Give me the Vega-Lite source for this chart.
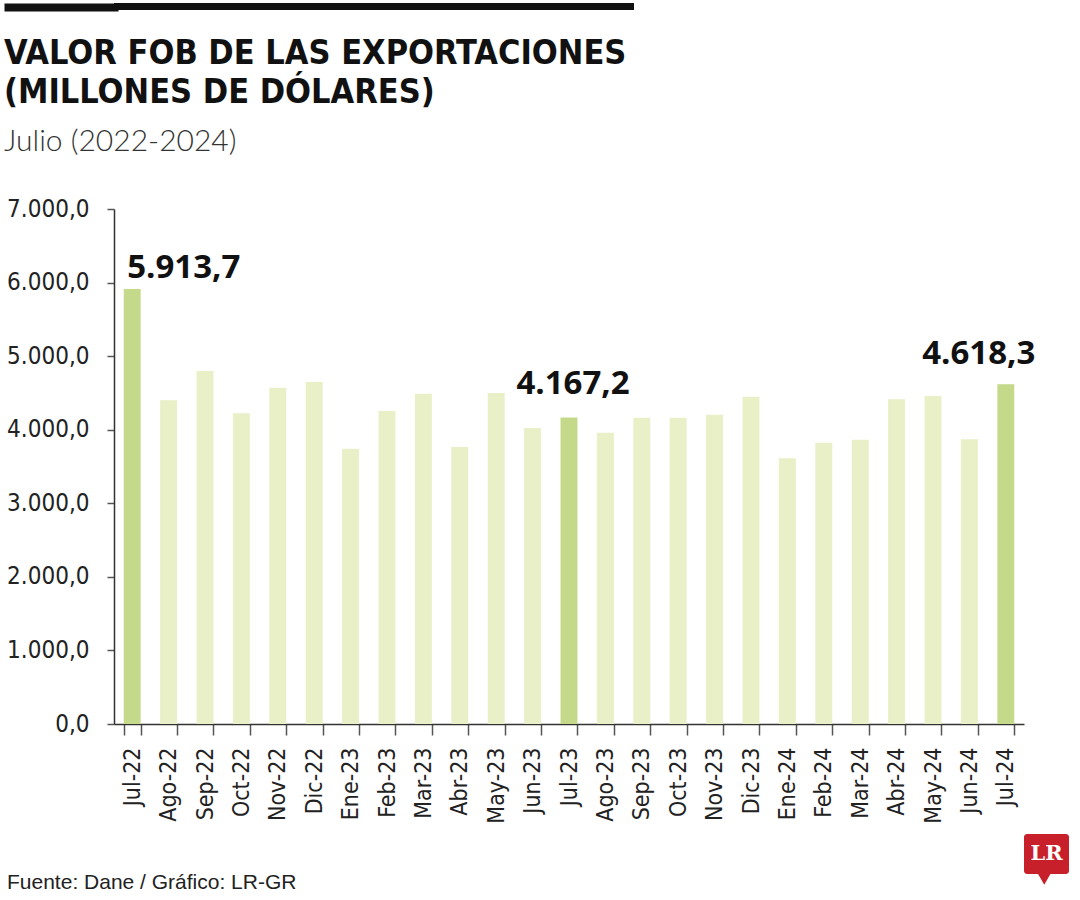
{
  "$schema": "https://vega.github.io/schema/vega-lite/v6.json",
  "background": "white",
  "padding": {"left": 0, "top": 0, "right": 10, "bottom": 4},
  "spacing": 25,
  "config": {
    "locale": {"number": {"decimal": ",", "thousands": ".", "grouping": [3], "currency": ["$", ""]}},
    "font": "DejaVu Sans Condensed, sans-serif",
    "view": {"stroke": null}
  },
  "vconcat": [
    {
      "width": 520,
      "height": 7,
      "view": {"fill": "#111111", "stroke": null},
      "data": {"values": [{"t": "", "v": 0.5}]},
      "mark": {"type": "text"},
      "encoding": {
        "text": {"field": "t"},
        "y": {
          "field": "v",
          "type": "quantitative",
          "scale": {"domain": [0, 1]},
          "axis": {"values": [0.5], "labels": false, "domain": false, "grid": false, "ticks": true, "offset": -4, "tickSize": 114, "tickWidth": 8, "tickColor": "#111111", "title": null}
        }
      }
    },
    {
      "spacing": 10,
      "vconcat": [
        {
          "width": 910,
          "height": 515,
          "title": {
            "text": ["VALOR FOB DE LAS EXPORTACIONES", "(MILLONES DE DÓLARES)"],
            "subtitle": "Julio (2022-2024)",
            "anchor": "start",
            "frame": "group",
            "dx": -110,
            "font": "DejaVu Sans Condensed, sans-serif",
            "fontSize": 34,
            "fontWeight": "bold",
            "color": "#111111",
            "lineHeight": 39,
            "subtitleFont": "Lato, sans-serif",
            "subtitleFontWeight": 300,
            "subtitleFontSize": 30,
            "subtitleColor": "#333333",
            "subtitlePadding": 17,
            "offset": 40
          },
          "data": {
            "values": [
              {"mes": "Jul-22", "valor": 5913.7, "grupo": "julio"},
              {"mes": "Ago-22", "valor": 4400, "grupo": "otro"},
              {"mes": "Sep-22", "valor": 4798, "grupo": "otro"},
              {"mes": "Oct-22", "valor": 4223, "grupo": "otro"},
              {"mes": "Nov-22", "valor": 4571, "grupo": "otro"},
              {"mes": "Dic-22", "valor": 4649, "grupo": "otro"},
              {"mes": "Ene-23", "valor": 3742, "grupo": "otro"},
              {"mes": "Feb-23", "valor": 4254, "grupo": "otro"},
              {"mes": "Mar-23", "valor": 4490, "grupo": "otro"},
              {"mes": "Abr-23", "valor": 3765, "grupo": "otro"},
              {"mes": "May-23", "valor": 4499, "grupo": "otro"},
              {"mes": "Jun-23", "valor": 4023, "grupo": "otro"},
              {"mes": "Jul-23", "valor": 4167.2, "grupo": "julio"},
              {"mes": "Ago-23", "valor": 3960, "grupo": "otro"},
              {"mes": "Sep-23", "valor": 4164, "grupo": "otro"},
              {"mes": "Oct-23", "valor": 4164, "grupo": "otro"},
              {"mes": "Nov-23", "valor": 4205, "grupo": "otro"},
              {"mes": "Dic-23", "valor": 4449, "grupo": "otro"},
              {"mes": "Ene-24", "valor": 3611, "grupo": "otro"},
              {"mes": "Feb-24", "valor": 3824, "grupo": "otro"},
              {"mes": "Mar-24", "valor": 3865, "grupo": "otro"},
              {"mes": "Abr-24", "valor": 4413, "grupo": "otro"},
              {"mes": "May-24", "valor": 4458, "grupo": "otro"},
              {"mes": "Jun-24", "valor": 3870, "grupo": "otro"},
              {"mes": "Jul-24", "valor": 4618.3, "grupo": "julio"}
            ]
          },
          "encoding": {
            "x": {
              "field": "mes",
              "type": "ordinal",
              "sort": null,
              "scale": {"paddingInner": 0.535, "paddingOuter": 0.2675},
              "axis": {
                "labelAngle": -90,
                "labelFontSize": 23,
                "labelColor": "#222222",
                "labelPadding": 12,
                "tickBand": "extent",
                "tickSize": 11,
                "tickColor": "#555555",
                "tickWidth": 1.5,
                "domainColor": "#333333",
                "domainWidth": 1.5,
                "title": null
              }
            },
            "y": {
              "field": "valor",
              "type": "quantitative",
              "scale": {"domain": [0, 7000], "nice": false},
              "axis": {
                "values": [0, 1000, 2000, 3000, 4000, 5000, 6000, 7000],
                "format": ",.1f",
                "labelFontSize": 24,
                "labelColor": "#222222",
                "labelPadding": 18,
                "tickSize": 7,
                "tickColor": "#555555",
                "tickWidth": 1.5,
                "domainColor": "#333333",
                "domainWidth": 1.5,
                "grid": false,
                "title": null
              }
            }
          },
          "layer": [
            {
              "mark": {"type": "bar"},
              "encoding": {
                "color": {
                  "field": "grupo",
                  "type": "nominal",
                  "scale": {"domain": ["julio", "otro"], "range": ["#c5d98a", "#e9efc6"]},
                  "legend": null
                }
              }
            },
            {
              "transform": [{"filter": "datum.mes == 'Jul-22'"}],
              "mark": {"type": "text", "align": "left", "baseline": "alphabetic", "dx": -5, "dy": -11, "font": "Open Sans, sans-serif", "fontWeight": "bold", "fontSize": 33, "color": "#111111"},
              "encoding": {"text": {"field": "valor", "type": "quantitative", "format": ",.1f"}}
            },
            {
              "transform": [{"filter": "datum.mes == 'Jul-23'"}],
              "mark": {"type": "text", "align": "center", "baseline": "alphabetic", "dx": 4, "dy": -23, "font": "Open Sans, sans-serif", "fontWeight": "bold", "fontSize": 33, "color": "#111111"},
              "encoding": {"text": {"field": "valor", "type": "quantitative", "format": ",.1f"}}
            },
            {
              "transform": [{"filter": "datum.mes == 'Jul-24'"}],
              "mark": {"type": "text", "align": "center", "baseline": "alphabetic", "dx": -27, "dy": -20, "font": "Open Sans, sans-serif", "fontWeight": "bold", "fontSize": 33, "color": "#111111"},
              "encoding": {"text": {"field": "valor", "type": "quantitative", "format": ",.1f"}}
            }
          ]
        },
        {
          "spacing": 0,
          "hconcat": [
            {
              "width": 910,
              "height": 38,
              "title": {
                "text": "Fuente: Dane / Gráfico: LR-GR",
                "orient": "bottom",
                "anchor": "start",
                "frame": "group",
                "dx": -107,
                "offset": 0,
                "font": "Liberation Sans, sans-serif",
                "fontSize": 21,
                "fontWeight": "normal",
                "color": "#222222"
              },
              "data": {"values": [{"t": ""}]},
              "mark": {"type": "text"},
              "encoding": {"text": {"field": "t"}}
            },
            {
              "width": 45,
              "height": 40,
              "view": {"fill": "#c8202a", "stroke": null, "cornerRadius": 3},
              "data": {"values": [{"marca": "LR", "px": 0.5, "py": 0.5, "cx": 0.45, "cy": -0.13}]},
              "layer": [
                {
                  "mark": {"type": "point", "shape": "triangle-down", "filled": true, "color": "#c8202a", "size": 160, "opacity": 1, "clip": false},
                  "encoding": {
                    "x": {"field": "cx", "type": "quantitative", "scale": {"domain": [0, 1]}, "axis": null},
                    "y": {"field": "cy", "type": "quantitative", "scale": {"domain": [0, 1]}, "axis": null}
                  }
                },
                {
                  "mark": {"type": "text", "font": "DejaVu Serif, serif", "fontWeight": "bold", "fontSize": 21, "color": "white", "baseline": "middle", "align": "center"},
                  "encoding": {
                    "x": {"field": "px", "type": "quantitative", "scale": {"domain": [0, 1]}, "axis": null},
                    "y": {"field": "py", "type": "quantitative", "scale": {"domain": [0, 1]}, "axis": null},
                    "text": {"field": "marca"}
                  }
                }
              ]
            }
          ]
        }
      ]
    }
  ]
}
